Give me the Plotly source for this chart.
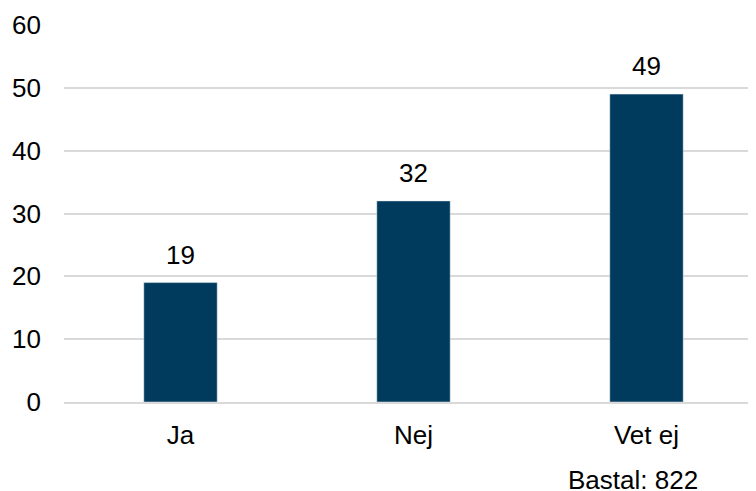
import plotly.graph_objects as go

categories = ["Ja", "Nej", "Vet ej"]
values = [19, 32, 49]
y_ticks = [0, 10, 20, 30, 40, 50, 60]
base_note = "Bastal: 822"

bar_color = "#003a5c"
font_family = "Liberation Sans, Arial, sans-serif"
fs = 26

fig = go.Figure()
fig.add_trace(go.Bar(
    x=categories, y=values, marker_color=bar_color, width=0.315,
    hoverinfo="skip",
))
for c, v in zip(categories, values):
    fig.add_annotation(x=c, y=v, text=str(v), showarrow=False, yanchor="bottom",
                       yshift=11, font=dict(size=fs, color="#000000", family=font_family))
fig.add_annotation(x=1.0, xref="paper", y=0, yref="paper", yshift=-78, xanchor="right",
                   yanchor="middle", text=base_note, showarrow=False, xshift=-56,
                   font=dict(size=fs, color="#000000", family=font_family))

# page body has an 8px margin, so the figure is sized to fit the window
fig.update_layout(
    width=748, height=483,
    margin=dict(l=56, r=0, t=17, b=89, autoexpand=False),
    plot_bgcolor="white", paper_bgcolor="white",
    showlegend=False,
    font=dict(family=font_family, size=fs, color="#000000"),
)
fig.update_xaxes(range=[-0.5, 2.47], showgrid=False, showline=True, linecolor="#d9d9d9",
                 linewidth=2, ticks="", tickfont=dict(size=fs), ticklabelstandoff=9,
                 automargin=False)
fig.update_yaxes(range=[0, 60], tickvals=y_ticks, showgrid=True, gridcolor="#d9d9d9",
                 gridwidth=2, zeroline=False, showline=False, ticks="",
                 tickfont=dict(size=fs), ticklabelstandoff=22, automargin=False)

fig.write_html("out.html")
